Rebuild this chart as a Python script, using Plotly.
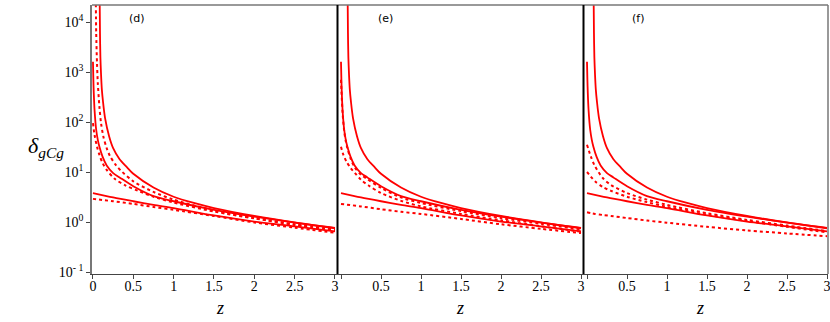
import plotly.graph_objects as go

# solid curves (same in all three panels)
solid_a_z = [0.083, 0.087, 0.092, 0.1, 0.11, 0.125, 0.15, 0.2, 0.25, 0.33, 0.42, 0.5, 0.75, 1, 1.25, 1.5, 2, 2.5, 3]
solid_a = [30000, 6000, 2000, 900, 450, 250, 120, 52, 30, 18, 12.5, 9.2, 4.9, 3.2, 2.4, 1.9, 1.32, 0.98, 0.76]

solid_b_z = [0, 0.005, 0.01, 0.02, 0.04, 0.06, 0.08, 0.12, 0.17, 0.25, 0.33, 0.5, 0.75, 1, 1.5, 2, 2.5, 3]
solid_b = [1600, 700, 380, 170, 70, 44, 32, 20, 13.5, 9.5, 7.8, 5.2, 3.3, 2.6, 1.75, 1.28, 0.97, 0.75]

solid_c_z = [0, 0.25, 0.5, 0.75, 1, 1.5, 2, 2.5, 3]
solid_c = [3.8, 3.1, 2.6, 2.2, 1.9, 1.35, 1.02, 0.82, 0.65]

# dotted curves, panel (d)
d_dot1_z = [0.035, 0.04, 0.05, 0.06, 0.08, 0.1, 0.13, 0.17, 0.21, 0.28, 0.35, 0.5, 0.75, 1, 1.5, 2, 2.5, 3]
d_dot1 = [30000, 6000, 1500, 600, 200, 95, 50, 30, 21, 14, 10.5, 6.5, 4.0, 2.8, 1.7, 1.2, 0.9, 0.71]
d_dot2_z = [0, 0.02, 0.05, 0.08, 0.12, 0.17, 0.27, 0.4, 0.56, 0.75, 1, 1.5, 2, 2.5, 3]
d_dot2 = [95, 55, 32, 22, 15, 11, 7.3, 5.4, 4.2, 3.2, 2.45, 1.62, 1.18, 0.87, 0.68]
d_dot3_z = [0, 0.25, 0.5, 0.75, 1, 1.5, 2, 2.5, 3]
d_dot3 = [2.9, 2.6, 2.3, 2.0, 1.75, 1.32, 0.98, 0.77, 0.61]

# dotted curves, panel (e)
e_dot1_z = [0, 0.005, 0.01, 0.02, 0.04, 0.06, 0.08, 0.12, 0.17, 0.25, 0.33, 0.5, 0.75, 1, 1.5, 2, 2.5, 3]
e_dot1 = [700, 450, 300, 150, 66, 41, 30, 18.5, 12.5, 8.8, 7.2, 4.8, 3.1, 2.4, 1.65, 1.2, 0.92, 0.71]
e_dot2_z = [0, 0.03, 0.07, 0.12, 0.175, 0.25, 0.35, 0.5, 0.75, 1, 1.5, 2, 2.5, 3]
e_dot2 = [32, 22, 16, 12, 9.5, 7, 5.3, 3.8, 2.65, 2.05, 1.45, 1.08, 0.82, 0.64]
e_dot3_z = [0, 0.25, 0.5, 0.75, 1, 1.5, 2, 2.5, 3]
e_dot3 = [2.3, 2.05, 1.8, 1.6, 1.45, 1.15, 0.9, 0.73, 0.6]

# dotted curves, panel (f)
f_dot_z = [0, 0.05, 0.1, 0.2, 0.3, 0.5, 0.75, 1, 1.5, 2, 2.5, 3]
f_dot1 = [35, 20, 13, 7.5, 5.5, 3.8, 2.8, 2.2, 1.5, 1.1, 0.85, 0.66]
f_dot2 = [10, 8, 6.5, 5, 4.2, 3.2, 2.5, 2.0, 1.4, 1.05, 0.8, 0.62]
f_dot3 = [1.56, 1.5, 1.45, 1.38, 1.32, 1.2, 1.07, 0.97, 0.8, 0.68, 0.59, 0.52]

panel_labels = ["(d)", "(e)", "(f)"]
x_ticks = [0, 0.5, 1, 1.5, 2, 2.5, 3]
x_ticktext = ["0", "0.5", "1", "1.5", "2", "2.5", "3"]
y_ticks = [0.1, 1, 10, 100, 1000, 10000]
y_ticktext = ["10<sup>- 1</sup>", "10<sup>0</sup>", "10<sup>1</sup>", "10<sup>2</sup>", "10<sup>3</sup>", "10<sup>4</sup>"]

dotted = [
    [(d_dot1_z, d_dot1), (d_dot2_z, d_dot2), (d_dot3_z, d_dot3)],
    [(e_dot1_z, e_dot1), (e_dot2_z, e_dot2), (e_dot3_z, e_dot3)],
    [(f_dot_z, f_dot1), (f_dot_z, f_dot2), (f_dot_z, f_dot3)],
]

W, H = 830, 322
RED = "#ff0000"
SERIF = "Liberation Serif, Times New Roman, DejaVu Serif, serif"


def px(p):
    return p / W


def py(p):
    return 1 - p / H


# panel edges in pixels
edges = [(92, 337), (337, 583), (583, 828)]
x_ranges = [[-0.012, 3.025], [-0.05, 3.025], [-0.05, 3.0125]]
label_x = [137, 385, 638]
top_px, bot_px = 5, 274

fig = go.Figure()

for i in range(3):
    sfx = "" if i == 0 else str(i + 1)
    xa, ya = "x" + sfx, "y" + sfx
    for zz, vv in [(solid_a_z, solid_a), (solid_b_z, solid_b), (solid_c_z, solid_c)]:
        fig.add_trace(go.Scatter(x=zz, y=vv, mode="lines", xaxis=xa, yaxis=ya,
                                 line=dict(color=RED, width=1.8, shape="spline", smoothing=0.8),
                                 showlegend=False))
    for zz, vv in dotted[i]:
        fig.add_trace(go.Scatter(x=zz, y=vv, mode="lines", xaxis=xa, yaxis=ya,
                                 line=dict(color=RED, width=2, dash="dot", shape="spline", smoothing=0.8),
                                 showlegend=False))

    x0, x1 = edges[i]
    ticktext = x_ticktext if i == 0 else [""] + x_ticktext[1:]
    fig.layout["xaxis" + sfx] = dict(
        domain=[px(x0), px(x1)], range=x_ranges[i], anchor=ya,
        tickvals=x_ticks, ticktext=ticktext, ticks="outside", ticklen=4,
        ticklabelstandoff=-5, ticklabeloverflow="allow",
        tickcolor="#444", showline=True, linecolor="#444", linewidth=1,
        showgrid=False, zeroline=False, automargin=False,
        tickfont=dict(family=SERIF, size=14, color="black"))
    fig.layout["yaxis" + sfx] = dict(
        domain=[py(bot_px), py(top_px)], type="log", range=[-1.04, 4.34],
        anchor=xa, showgrid=False, zeroline=False, automargin=False,
        showline=(i == 0), linecolor="#777", linewidth=1.5,
        tickvals=y_ticks if i == 0 else [], ticktext=y_ticktext if i == 0 else [],
        ticks="outside" if i == 0 else "", ticklen=4, tickcolor="#444",
        showticklabels=(i == 0),
        tickfont=dict(family=SERIF, size=14, color="black"))

    # panel label and z title
    fig.add_annotation(x=px(label_x[i]), y=py(19), xref="paper", yref="paper",
                       text=panel_labels[i], showarrow=False, xanchor="center", yanchor="middle",
                       font=dict(family="DejaVu Sans", size=11, color="black"))
    fig.add_annotation(x=px((x0 + x1) / 2), y=py(308), xref="paper", yref="paper",
                       text="<i>z</i>", showarrow=False, yanchor="middle",
                       font=dict(family=SERIF, size=18, color="black"))

# y title
fig.add_annotation(x=px(26), y=py(147), xref="paper", yref="paper",
                   text="<i>δ</i><sub><i>gCg</i></sub>", showarrow=False,
                   xanchor="left", yanchor="middle",
                   font=dict(family=SERIF, size=22, color="black"))

# frame lines
shapes = [
    dict(type="line", xref="paper", yref="paper", x0=px(92), x1=px(828),
         y0=py(top_px), y1=py(top_px), line=dict(color="#777", width=1.5)),
    dict(type="line", xref="paper", yref="paper", x0=px(828), x1=px(828),
         y0=py(top_px), y1=py(bot_px), line=dict(color="#777", width=1.5)),
]
for sx in (337.5, 583.5):
    shapes.append(dict(type="line", xref="paper", yref="paper", x0=px(sx), x1=px(sx),
                       y0=py(top_px), y1=py(bot_px), line=dict(color="black", width=2)))

fig.update_layout(width=W, height=H, margin=dict(l=0, r=0, t=0, b=0),
                  font=dict(family=SERIF),
                  plot_bgcolor="white", paper_bgcolor="white", shapes=shapes)

# the page's default 8px body margin would push the figure off the window
fig.write_html("out.html", config={"displayModeBar": False},
               post_script="document.body.style.margin = '0';")
